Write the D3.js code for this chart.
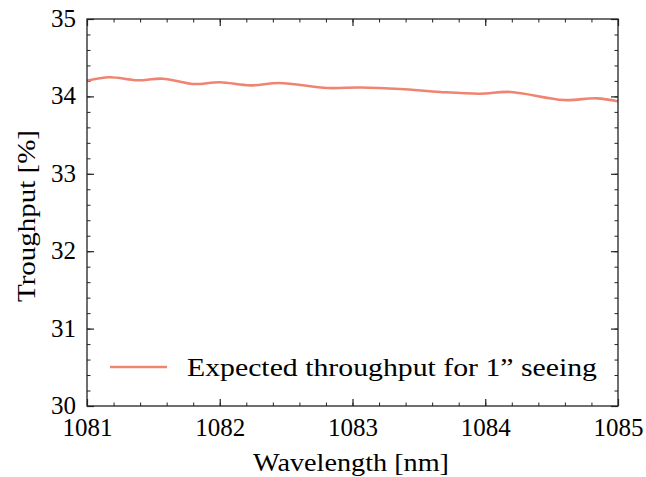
<!DOCTYPE html>
<html>
<head>
<meta charset="utf-8">
<script src="https://cdn.jsdelivr.net/npm/d3@7"></script>
<style>
body { margin: 0; background: #fff; }
text { font-family: "Liberation Serif", "DejaVu Serif", serif; fill: #000; }
</style>
</head>
<body>
<div id="viz"></div>
<script>
// data
var wavelength = [1081.00, 1081.17, 1081.38, 1081.57, 1081.80, 1082.00, 1082.23, 1082.45, 1082.81, 1083.06, 1083.36, 1083.66, 1083.96, 1084.19, 1084.59, 1084.84, 1085.00];
var throughput = [34.203, 34.247, 34.208, 34.229, 34.160, 34.182, 34.143, 34.173, 34.109, 34.115, 34.096, 34.057, 34.035, 34.057, 33.953, 33.975, 33.937];
var xTicks = [1081, 1082, 1083, 1084, 1085];
var yTicks = [30, 31, 32, 33, 34, 35];
var legendLabel = "Expected throughput for 1\u201d seeing";

var W = 646, H = 477;
var margin = {top: 19, left: 87, right: 28, bottom: 71};
var width = W - margin.left - margin.right;
var height = H - margin.top - margin.bottom;

var data = wavelength.map(function(d, i) { return {x: d, y: throughput[i]}; });

var svg = d3.select("#viz").append("svg")
    .attr("width", W)
    .attr("height", H);

var g = svg.append("g")
    .attr("transform", "translate(" + margin.left + "," + margin.top + ")");

var xScale = d3.scaleLinear().domain([1081, 1085]).range([0, width]);
var yScale = d3.scaleLinear().domain([30, 35]).range([height, 0]);

var minorX = d3.range(1081, 1085.001, 0.2);
var minorY = d3.range(30, 35.001, 0.2);

// inward minor ticks on all four sides
function minorAxis(axis, tr, minor) {
  var gMinor = g.append("g").attr("transform", tr)
      .call(axis.tickValues(minor).tickSize(-3.5).tickFormat(""));
  gMinor.select(".domain").remove();
  gMinor.selectAll("line").attr("stroke", "#222").attr("stroke-width", 1);
}

minorAxis(d3.axisBottom(xScale), "translate(0," + height + ")", minorX);
minorAxis(d3.axisTop(xScale), "translate(0,0)", minorX);
minorAxis(d3.axisLeft(yScale), "translate(0,0)", minorY);
minorAxis(d3.axisRight(yScale), "translate(" + width + ",0)", minorY);

var lbl = function(d) { return d; };

var xb = g.append("g").attr("transform", "translate(0," + height + ")")
    .call(d3.axisBottom(xScale).tickValues(xTicks).tickSize(-7).tickFormat(lbl));
var xt = g.append("g")
    .call(d3.axisTop(xScale).tickValues(xTicks).tickSize(-7).tickFormat(""));
var yl = g.append("g")
    .call(d3.axisLeft(yScale).tickValues(yTicks).tickSize(-7).tickFormat(lbl));
var yr = g.append("g").attr("transform", "translate(" + width + ",0)")
    .call(d3.axisRight(yScale).tickValues(yTicks).tickSize(-7).tickFormat(""));

[xb, xt, yl, yr].forEach(function(a) {
  a.select(".domain").remove();
  a.selectAll("line").attr("stroke", "#222").attr("stroke-width", 1.2);
  a.selectAll("text").style("font-size", "25px").attr("fill", "#000");
});
xb.selectAll("text").attr("y", 12).attr("dy", "0.72em");
yl.selectAll("text").attr("x", -11).attr("dy", "0.3em");

// the curve
var line = d3.line()
    .x(function(d) { return xScale(d.x); })
    .y(function(d) { return yScale(d.y); })
    .curve(d3.curveCatmullRom.alpha(0.5));

g.append("defs").append("clipPath").attr("id", "clip")
  .append("rect").attr("width", width).attr("height", height);

g.append("path")
    .datum(data)
    .attr("clip-path", "url(#clip)")
    .attr("d", line)
    .attr("fill", "none")
    .attr("stroke", "#f08472")
    .attr("stroke-width", 2.6);

// frame
g.append("rect")
    .attr("width", width).attr("height", height)
    .attr("fill", "none")
    .attr("stroke", "#222")
    .attr("stroke-width", 1.3);

// legend
g.append("line")
    .attr("x1", 23).attr("x2", 80)
    .attr("y1", 348).attr("y2", 348)
    .attr("stroke", "#f08472")
    .attr("stroke-width", 2.6);
g.append("text")
    .attr("x", 100).attr("y", 357)
    .attr("textLength", 410)
    .attr("lengthAdjust", "spacingAndGlyphs")
    .style("font-size", "25px")
    .text(legendLabel);

// axis labels
svg.append("text")
    .attr("x", 253).attr("y", 471)
    .attr("textLength", 196)
    .attr("lengthAdjust", "spacingAndGlyphs")
    .style("font-size", "25px")
    .text("Wavelength [nm]");

svg.append("text")
    .attr("transform", "translate(35,302) rotate(-90)")
    .attr("textLength", 172)
    .attr("lengthAdjust", "spacingAndGlyphs")
    .style("font-size", "25px")
    .text("Troughput [%]");
</script>
</body>
</html>
